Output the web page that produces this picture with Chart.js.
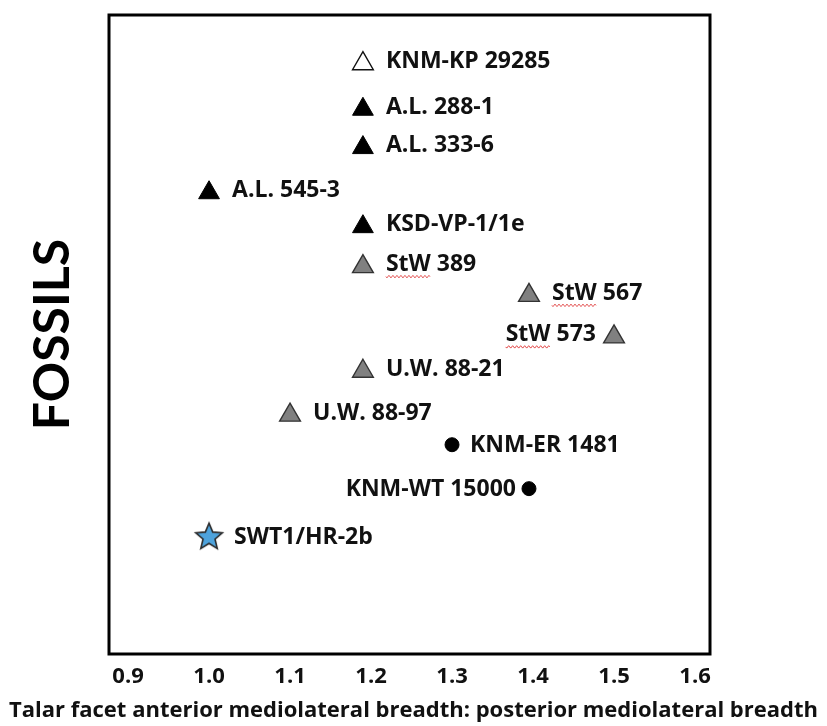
<!DOCTYPE html>
<html><head><meta charset="utf-8">
<script src="https://cdn.jsdelivr.net/npm/chart.js@4/dist/chart.umd.min.js"></script>
<style>html,body{margin:0;padding:0;background:#fff;}canvas{display:block;}</style>
</head><body>
<canvas id="c" width="827" height="726"></canvas>
<script>
// Fossil specimens, their talar facet breadth ratio and vertical row position
const specimens = ['KNM-KP 29285','A.L. 288-1','A.L. 333-6','A.L. 545-3','KSD-VP-1/1e','StW 389','StW 567','StW 573','U.W. 88-21','U.W. 88-97','KNM-ER 1481','KNM-WT 15000','SWT1/HR-2b'];
const breadthRatio = [1.19, 1.19, 1.19, 1.0, 1.19, 1.19, 1.395, 1.5, 1.19, 1.1, 1.3, 1.395, 1.0];
const rowPosition = [1.22, 2.36, 3.32, 4.45, 5.3, 6.3, 7.02, 8.06, 8.92, 10.02, 10.76, 11.86, 13.05];
const markerGroup = ['open','black','black','black','black','grey','grey','grey','grey','grey','circle','circle','star'];
const labelSide = ['right','right','right','right','right','right','right','left','right','right','right','left','right'];
const xTicks = [0.9, 1.0, 1.1, 1.2, 1.3, 1.4, 1.5, 1.6];
const xTitle = 'Talar facet anterior mediolateral breadth: posterior mediolateral breadth';
const yTitle = 'FOSSILS';

const FONT = '"Open Sans", Lato, "DejaVu Sans", sans-serif';
const TITLE_FONT = 'Lato, "Open Sans", sans-serif';

// five-pointed star marker
function makeStar(size) {
  const cv = document.createElement('canvas');
  cv.width = size; cv.height = size;
  const g = cv.getContext('2d');
  const cx = size / 2, cy = size / 2 + 1, R = size / 2 - 2, r = R * 0.45;
  g.beginPath();
  for (let i = 0; i < 10; i++) {
    const rad = i % 2 ? r : R;
    const a = -Math.PI / 2 + i * Math.PI / 5;
    const px = cx + Math.cos(a) * rad, py = cy + Math.sin(a) * rad;
    i ? g.lineTo(px, py) : g.moveTo(px, py);
  }
  g.closePath();
  g.fillStyle = '#4ea3dc';
  g.fill();
  g.lineWidth = 1.6;
  g.strokeStyle = '#2b2b2b';
  g.stroke();
  return cv;
}

const groupStyle = {
  open:   { pointStyle: 'triangle', radius: 12, bg: '#ffffff', border: '#111111', bw: 1.4 },
  black:  { pointStyle: 'triangle', radius: 12, bg: '#000000', border: '#000000', bw: 1 },
  grey:   { pointStyle: 'triangle', radius: 12, bg: '#808080', border: '#333333', bw: 1.4 },
  circle: { pointStyle: 'circle',   radius: 7,  bg: '#000000', border: '#000000', bw: 1 },
  star:   { pointStyle: makeStar(32), radius: 14, bg: '#4ea3dc', border: '#2b2b2b', bw: 1 }
};

const datasets = Object.keys(groupStyle).map(key => {
  const s = groupStyle[key];
  const idx = specimens.map((_, i) => i).filter(i => markerGroup[i] === key);
  return {
    label: key,
    data: idx.map(i => ({ x: breadthRatio[i], y: rowPosition[i], name: specimens[i], side: labelSide[i] })),
    pointStyle: s.pointStyle,
    pointRadius: s.radius,
    pointHoverRadius: s.radius,
    backgroundColor: s.bg,
    borderColor: s.border,
    pointBorderWidth: s.bw,
    showLine: false
  };
});

// specimen names next to each marker
const pointLabels = {
  id: 'pointLabels',
  afterDatasetsDraw(chart) {
    const ctx = chart.ctx;
    ctx.save();
    ctx.font = 'bold 23px ' + FONT;
    ctx.fillStyle = '#111';
    ctx.textBaseline = 'middle';
    chart.data.datasets.forEach((ds, di) => {
      const meta = chart.getDatasetMeta(di);
      const r = ds.pointRadius;
      const tri = ds.pointStyle === 'triangle';
      meta.data.forEach((el, j) => {
        const d = ds.data[j];
        const y = el.y - (tri ? r / 4 : 0);
        const gap = d.side === 'left' ? r + 6 : r + 11;
        let x;
        if (d.side === 'left') {
          ctx.textAlign = 'right';
          x = el.x - gap;
        } else {
          ctx.textAlign = 'left';
          x = el.x + gap;
        }
        ctx.fillText(d.name, x, y + 1);
        // wavy spell-check underline beneath "StW"
        if (d.name.startsWith('StW')) {
          const full = ctx.measureText(d.name).width;
          const w = ctx.measureText('StW').width;
          const x0 = d.side === 'left' ? x - full : x;
          ctx.save();
          ctx.strokeStyle = '#e04040';
          ctx.lineWidth = 1;
          ctx.beginPath();
          for (let k = 0; k <= w; k += 1) {
            const yy = y + 13 + Math.sin(k * Math.PI / 2) * 1.2;
            k ? ctx.lineTo(x0 + k, yy) : ctx.moveTo(x0 + k, yy);
          }
          ctx.stroke();
          ctx.restore();
        }
      });
    });
    ctx.restore();
  }
};

// frame round the plotting area, and the x-axis caption spanning the full width
const frame = {
  id: 'frame',
  afterDraw(chart) {
    const a = chart.chartArea, ctx = chart.ctx;
    ctx.save();
    ctx.strokeStyle = '#000';
    ctx.lineWidth = 3;
    ctx.strokeRect(a.left, a.top, a.right - a.left, a.bottom - a.top);
    ctx.font = 'bold 22px ' + FONT;
    ctx.fillStyle = '#111';
    ctx.textAlign = 'center';
    ctx.textBaseline = 'alphabetic';
    ctx.fillText(xTitle, chart.width / 2, chart.height - 9);
    ctx.restore();
  }
};

new Chart(document.getElementById('c'), {
  type: 'scatter',
  data: { datasets },
  plugins: [pointLabels, frame],
  options: {
    responsive: false,
    devicePixelRatio: 1,
    animation: false,
    events: [],
    layout: { padding: { top: 12, right: 117, bottom: 0, left: 0 } },
    plugins: { legend: { display: false }, tooltip: { enabled: false } },
    scales: {
      x: {
        type: 'linear',
        min: 0.8765,
        max: 1.6185,
        afterBuildTicks(scale) { scale.ticks = xTicks.map(v => ({ value: v })); },
        afterFit(scale) { scale.height = 72; },
        grid: { display: false, drawTicks: false },
        border: { display: false },
        ticks: {
          padding: 10,
          color: '#111',
          font: { family: FONT, size: 22, weight: 'bold' },
          callback: v => Number(v).toFixed(1),
          maxRotation: 0,
          autoSkip: false
        }
      },
      y: {
        type: 'linear',
        min: 0,
        max: 16,
        reverse: true,
        afterFit(scale) { scale.width = 109; },
        grid: { display: false, drawTicks: false },
        border: { display: false },
        ticks: { display: false },
        title: {
          display: true,
          text: yTitle,
          color: '#000',
          font: { family: TITLE_FONT, size: 50, weight: 'bold', lineHeight: 1.2 },
          padding: { top: 23, bottom: 0 }
        }
      }
    }
  }
});
</script>
</body></html>
